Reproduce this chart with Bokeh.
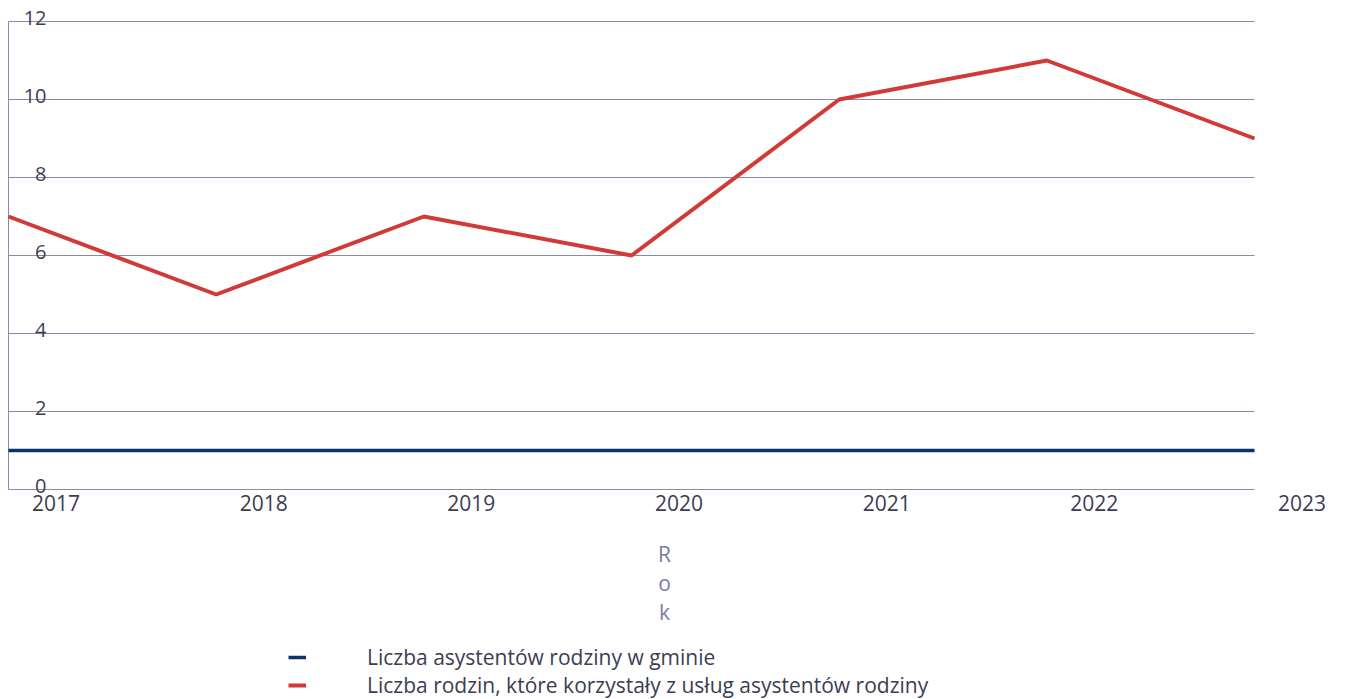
from bokeh.plotting import figure
from bokeh.models import (ColumnDataSource, LabelSet, Label, Range1d,
                          Legend, LegendItem)
from bokeh.core.properties import value
from bokeh.embed import file_html
from bokeh.resources import INLINE

years = ["2017", "2018", "2019", "2020", "2021", "2022", "2023"]
asystenci = [1, 1, 1, 1, 1, 1, 1]
rodziny = [7, 5, 7, 6, 10, 11, 9]
y_ticks = [0, 2, 4, 6, 8, 10, 12]
series_names = ["Liczba asystentów rodziny w gminie",
                "Liczba rodzin, które korzystały z usług asystentów rodziny"]
x_title = "Rok"

FONT = "Open Sans"
TEXT = "#3d3d52"
GRID = "#8a8aa6"
RED = "#d13a36"
NAVY = "#0b3566"

W, H = 1340, 699
LEFT, ZERO_Y = 8, 489          # pixel of first point / of value 0
XSTEP, YSTEP = 207.67, 39.0    # pixels per category / per unit

xs = list(range(len(years)))
n = len(years) - 1

p = figure(width=W, height=H, output_backend="svg", toolbar_location=None,
           x_range=Range1d(-LEFT / XSTEP, (W - LEFT) / XSTEP),
           y_range=Range1d(-(H - ZERO_Y) / YSTEP, ZERO_Y / YSTEP),
           min_border_left=0, min_border_right=0, min_border_top=0,
           min_border_bottom=0)
p.outline_line_color = None
p.xaxis.visible = False
p.yaxis.visible = False
p.xgrid.grid_line_color = None
p.ygrid.grid_line_color = None
p.background_fill_color = None
p.border_fill_color = None

# horizontal grid lines and left axis line, limited to the data span
p.segment(x0=[0] * len(y_ticks), x1=[n] * len(y_ticks), y0=y_ticks, y1=y_ticks,
          line_color=GRID, line_width=1)
p.segment(x0=[0], x1=[0], y0=[y_ticks[0]], y1=[y_ticks[-1]],
          line_color=GRID, line_width=1)

src = ColumnDataSource(dict(x=xs, a=asystenci, r=rodziny))
g1 = p.line("x", "a", source=src, line_color=NAVY, line_width=3.5)
g2 = p.line("x", "r", source=src, line_color=RED, line_width=4)

# y tick labels (inside the frame, right-aligned)
ysrc = ColumnDataSource(dict(x=[0] * len(y_ticks), y=y_ticks, t=[str(v) for v in y_ticks]))
p.add_layout(LabelSet(x="x", y="y", text="t", source=ysrc, x_offset=38, y_offset=-3,
                      text_align="right", text_baseline="alphabetic",
                      text_font=value(FONT), text_font_size="20px", text_color=TEXT))

# x tick labels (shifted right of the data points)
xsrc = ColumnDataSource(dict(x=xs, y=[0] * len(xs), t=years))
p.add_layout(LabelSet(x="x", y="y", text="t", source=xsrc, x_offset=47.5, y_offset=-21,
                      text_align="center", text_baseline="alphabetic",
                      text_font=value(FONT), text_font_size="21px", text_color=TEXT))

# axis title, letters stacked vertically
for i, ch in enumerate(x_title):
    p.add_layout(Label(x=3, y=0, x_offset=33, y_offset=-64 - 29 * i, text=ch,
                       text_align="center", text_baseline="alphabetic",
                       text_font=FONT, text_font_size="21px", text_color="#7a7aa6"))

legend = Legend(items=[LegendItem(label=series_names[0], renderers=[g1]),
                       LegendItem(label=series_names[1], renderers=[g2])],
                location=(288, 0), orientation="vertical",
                label_text_font=FONT, label_text_font_size="21px",
                label_text_color=TEXT, label_standoff=61, glyph_width=18,
                glyph_height=24, label_height=24, spacing=0, padding=0, margin=0,
                border_line_color=None, background_fill_alpha=0)
p.add_layout(legend)

open("out.html", "w").write(file_html(p, INLINE))
